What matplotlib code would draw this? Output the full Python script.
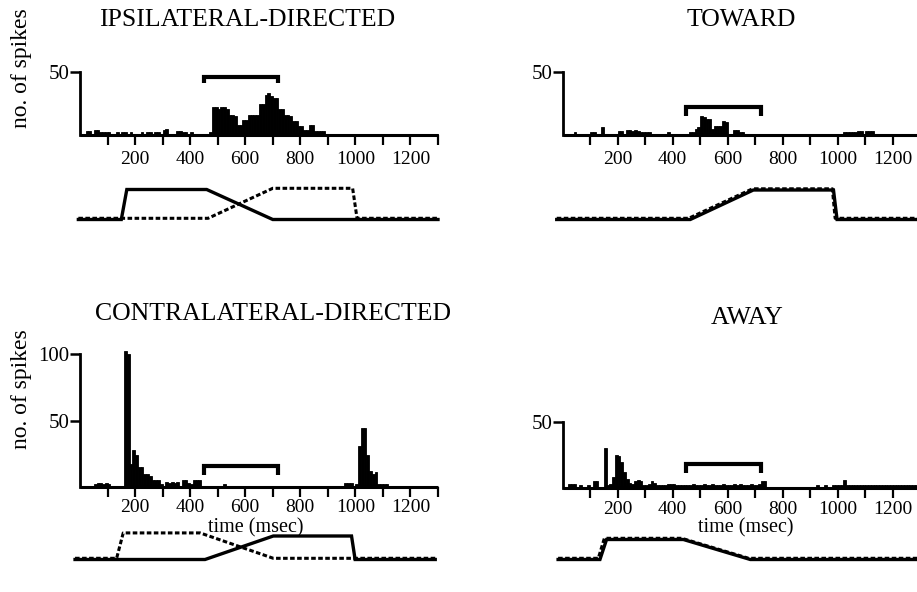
import matplotlib
matplotlib.use("Agg")
import matplotlib.pyplot as plt
import matplotlib.transforms as mtransforms
import numpy as np

plt.rcParams['font.family'] = ['Liberation Serif', 'DejaVu Serif']

# ---------------- data ----------------
bin_width = 10  # ms
bin_edges = list(range(0, 1300, bin_width))

ipsi_counts = [
    1, 1, 3, 3, 1, 4, 4, 2, 2, 2,
    2, 1, 1, 2, 1, 2, 2, 1, 2, 0,
    0, 1, 2, 1, 2, 2, 1, 2, 2, 1,
    4, 5, 1, 1, 1, 3, 3, 2, 2, 1,
    2, 0, 0, 1, 1, 1, 1, 2, 22, 22,
    21, 22, 22, 21, 16, 16, 15, 8, 8, 12,
    12, 16, 16, 16, 16, 25, 25, 32, 33, 31,
    29, 29, 21, 21, 16, 16, 15, 11, 11, 7,
    7, 4, 4, 8, 8, 3, 3, 3, 3, 1,
    1, 1, 1, 1, 1, 1, 1, 1, 1, 1,
    0, 0, 0, 0, 0, 0, 0, 0, 0, 0,
    0, 0, 0, 0, 0, 0, 0, 0, 0, 0,
    0, 0, 0, 0, 0, 0, 0, 0, 0, 1,
]

toward_counts = [
    1, 1, 1, 1, 2, 1, 1, 1, 1, 1,
    2, 2, 1, 1, 6, 1, 1, 1, 1, 1,
    3, 3, 1, 4, 4, 3, 4, 3, 2, 2,
    2, 2, 1, 1, 0, 1, 1, 1, 2, 1,
    1, 1, 0, 1, 1, 1, 2, 2, 5, 6,
    15, 14, 13, 13, 5, 7, 7, 7, 11, 10,
    1, 1, 4, 4, 2, 2, 1, 1, 0, 1,
    1, 1, 1, 0, 1, 1, 1, 1, 1, 0,
    1, 1, 1, 1, 1, 0, 1, 1, 1, 1,
    0, 1, 1, 1, 0, 1, 1, 1, 1, 1,
    1, 1, 2, 2, 2, 2, 2, 3, 3, 1,
    3, 3, 3, 1, 1, 1, 1, 1, 1, 1,
    1, 1, 1, 1, 1, 1, 1, 1, 1, 1,
]

contra_counts = [
    1, 1, 1, 1, 1, 2, 3, 3, 2, 3,
    2, 1, 1, 1, 1, 1, 102, 100, 17, 28,
    24, 15, 15, 10, 10, 8, 5, 5, 5, 2,
    1, 4, 3, 4, 3, 4, 1, 5, 5, 3,
    2, 5, 5, 5, 1, 1, 1, 1, 1, 1,
    1, 1, 2, 1, 1, 0, 1, 1, 1, 1,
    1, 1, 0, 1, 1, 1, 1, 0, 1, 1,
    0, 1, 1, 1, 1, 1, 1, 1, 0, 1,
    1, 1, 1, 0, 1, 1, 0, 1, 1, 1,
    1, 0, 1, 1, 1, 1, 3, 3, 3, 1,
    2, 31, 44, 44, 24, 12, 10, 11, 2, 2,
    2, 2, 1, 1, 1, 1, 0, 1, 1, 1,
    1, 0, 1, 1, 1, 1, 0, 1, 1, 0,
]

away_counts = [
    1, 1, 3, 3, 3, 1, 2, 1, 1, 2,
    1, 5, 5, 1, 1, 30, 2, 3, 8, 25,
    24, 20, 12, 7, 4, 3, 5, 6, 5, 2,
    2, 3, 5, 4, 2, 2, 2, 2, 3, 3,
    3, 2, 2, 2, 2, 2, 2, 3, 2, 2,
    2, 3, 2, 2, 3, 2, 2, 2, 3, 2,
    2, 2, 3, 2, 3, 2, 2, 2, 3, 2,
    2, 3, 5, 5, 1, 1, 1, 0, 1, 1,
    1, 0, 1, 1, 1, 1, 0, 1, 1, 1,
    1, 1, 2, 1, 1, 2, 1, 1, 2, 2,
    2, 2, 6, 2, 2, 2, 2, 2, 2, 2,
    2, 2, 2, 2, 2, 2, 2, 2, 2, 2,
    2, 2, 2, 2, 2, 2, 2, 2, 2, 2,
]

titles = ["IPSILATERAL-DIRECTED", "TOWARD", "CONTRALATERAL-DIRECTED", "AWAY"]

x_ticks = list(range(100, 1400, 100))
x_tick_labels = ["" if t % 200 else str(t) for t in x_ticks]

y_ticks_top = [50]
y_ticks_contra = [50, 100]
y_ticks_away = [50]

# analysis window bracket (ms) and its heights (spikes): top, end
bracket_start, bracket_end = 450, 720
ipsi_bracket = (46, 41)
toward_bracket = (22, 15)
contra_bracket = (15.5, 9)
away_bracket = (18, 11)

# position traces (time ms, relative level)
ipsi_solid_t = [-6, 150, 170, 460, 700, 1300]
ipsi_solid_y = [0, 0, 1, 1, 0, 0]
ipsi_dash_t = [-6, 465, 700, 990, 1006, 1300]
ipsi_dash_y = [0, 0, 1, 1, 0, 0]

toward_solid_t = [-21, 464, 693, 984, 997, 1300]
toward_solid_y = [0, 0, 1, 1, 0, 0]
toward_dash_t = [-21, 458, 690, 980, 990, 1300]
toward_dash_y = [0, 0, 1, 1, 0, 0]

contra_solid_t = [-18, 454, 702, 986, 999, 1290]
contra_solid_y = [0, 0, 1, 1, 0, 0]
contra_dash_t = [-18, 133, 157, 436, 702, 1290]
contra_dash_y = [0, 0, 1.08, 1.08, 0, 0]

away_solid_t = [-16, 136, 160, 439, 682, 1300]
away_solid_y = [0, 0, 1, 1, 0, 0]
away_dash_t = [-16, 130, 152, 433, 676, 1300]
away_dash_y = [0, 0, 1, 1, 0, 0]

# ---------------- figure ----------------
W, H = 917, 592
fig = plt.figure(figsize=(W / 100, H / 100), dpi=100)


def px_axes(x0, x1, ytop, ybot):
    return fig.add_axes([x0 / W, 1 - ybot / H, (x1 - x0) / W, (ybot - ytop) / H])


def hist_panel(x0, x1, ytop, ybot, counts, ymax, yticks, bracket, xpad):
    ax = px_axes(x0, x1, ytop, ybot)
    ax.set_xlim(0, 1300)
    ax.set_ylim(0, ymax)
    ax.bar(bin_edges, counts, width=bin_width, align='edge',
           facecolor='black', edgecolor='black', linewidth=0.6, clip_on=False)
    top, end = bracket
    ax.plot([bracket_start, bracket_start, bracket_end, bracket_end],
            [end, top, top, end], color='black', lw=3.0,
            solid_joinstyle='miter', solid_capstyle='butt', clip_on=False)
    for s in ['top', 'right']:
        ax.spines[s].set_visible(False)
    ax.spines['left'].set_linewidth(2.0)
    ax.spines['bottom'].set_linewidth(2.2)
    ax.spines['left'].set_bounds(0, ymax)
    ax.spines['bottom'].set_bounds(0, 1300)
    ax.spines['bottom'].set_capstyle('butt')
    ax.spines['bottom'].set_zorder(3)
    ax.set_xticks(x_ticks)
    ax.set_xticklabels(x_tick_labels)
    ax.set_yticks(yticks)
    ax.set_yticklabels([str(v) for v in yticks])
    ax.tick_params(axis='x', direction='out', length=7, width=1.6, pad=xpad,
                   labelsize=14)
    ax.tick_params(axis='y', direction='out', length=7, width=1.8, pad=0.5,
                   labelsize=15)
    ax.patch.set_visible(False)
    return ax


def trace_panel(x0, x1, ytop, ybot, st, sy, dt, dy):
    ax = px_axes(x0, x1, ytop, ybot)
    ax.set_xlim(0, 1300)
    ax.set_ylim(0, 1)
    ax.axis('off')
    ax.plot(st, sy, color='black', lw=2.4, solid_joinstyle='miter',
            clip_on=False)
    off = mtransforms.ScaledTranslation(0, 1.2 / 100, fig.dpi_scale_trans)
    ax.plot(dt, dy, color='black', lw=2.2, linestyle=(0, (1.5, 0.8)),
            transform=ax.transData + off, clip_on=False)
    return ax


# histogram panels
hist_panel(80, 438, 72, 135, ipsi_counts, 50, y_ticks_top, ipsi_bracket, 4.5)
hist_panel(562.5, 920.5, 72, 135, toward_counts, 50, y_ticks_top, toward_bracket, 4.5)
hist_panel(80, 438, 354, 487, contra_counts, 100, y_ticks_contra, contra_bracket, 2.0)
hist_panel(562.5, 920.5, 422, 488, away_counts, 50, y_ticks_away, away_bracket, 2.0)

# position traces
trace_panel(80, 438, 189.5, 219.5, ipsi_solid_t, ipsi_solid_y, ipsi_dash_t, ipsi_dash_y)
trace_panel(562.5, 920.5, 190, 219.5, toward_solid_t, toward_solid_y, toward_dash_t, toward_dash_y)
trace_panel(80, 438, 536, 559.5, contra_solid_t, contra_solid_y, contra_dash_t, contra_dash_y)
trace_panel(562.5, 920.5, 539.5, 559.5, away_solid_t, away_solid_y, away_dash_t, away_dash_y)

# titles and labels
title_pos = [(247, 20), (741, 20), (273, 314), (747, 318)]
for t, (x, y) in zip(titles, title_pos):
    fig.text(x / W, 1 - y / H, t, ha='center', va='center', fontsize=18.5)

for y in (68, 389):
    fig.text(22 / W, 1 - y / H, "no. of spikes", rotation=90,
             ha='center', va='center', fontsize=17)

for x in (256, 746):
    fig.text(x / W, 1 - 528 / H, "time (msec)", ha='center', va='center',
             fontsize=14.5)

fig.savefig("out.png", dpi=100)
